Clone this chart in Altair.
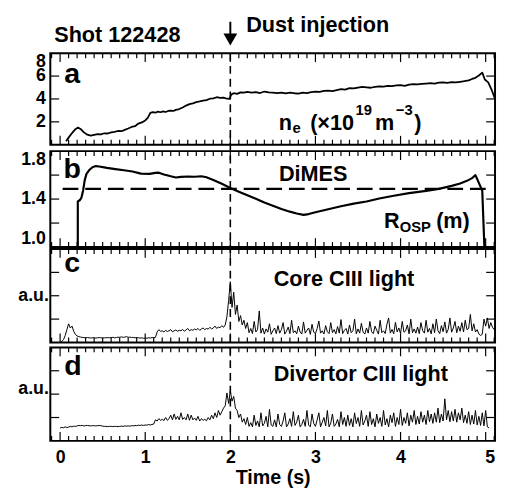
import altair as alt
import pandas as pd

FONT = "Liberation Sans"
W, H_TOTAL = 452, 394
X_DOMAIN = [-0.115, 5.11]
DUST_T = 2.0

X_MAJOR = [0, 1, 2, 3, 4, 5]
X_MINOR = [round(i / 10, 1) for i in range(-1, 52) if i % 10 != 0]
TICK_MAJOR_LEN, TICK_MINOR_LEN = 9, 5

# ---------------- panel a : line-averaged density ----------------
ne_t = [0.07, 0.10, 0.14, 0.18, 0.21, 0.24, 0.28, 0.32, 0.36, 0.40, 0.44, 0.48, 0.52, 0.56,
        0.60, 0.64, 0.68, 0.72, 0.76, 0.80, 0.84, 0.88, 0.92, 0.96, 1.00, 1.03, 1.06, 1.09,
        1.12, 1.15, 1.18, 1.21, 1.24, 1.27, 1.30, 1.33, 1.36, 1.40, 1.44, 1.48, 1.52, 1.56,
        1.60, 1.64, 1.68, 1.72, 1.76, 1.80, 1.84, 1.88, 1.92, 1.96, 1.99, 2.01, 2.04, 2.08,
        2.12, 2.16, 2.20, 2.25, 2.30, 2.35, 2.40, 2.45, 2.50, 2.55, 2.60, 2.65, 2.70, 2.75,
        2.80, 2.85, 2.90, 2.95, 3.00, 3.05, 3.10, 3.15, 3.20, 3.25, 3.30, 3.35, 3.40, 3.45,
        3.50, 3.55, 3.60, 3.65, 3.70, 3.75, 3.80, 3.85, 3.90, 3.95, 4.00, 4.05, 4.10, 4.15,
        4.20, 4.25, 4.30, 4.35, 4.40, 4.45, 4.50, 4.55, 4.60, 4.65, 4.70, 4.75, 4.80, 4.84,
        4.88, 4.92, 4.96, 4.99, 5.03, 5.07, 5.11]
ne_v = [0.30, 0.62, 1.02, 1.36, 1.50, 1.38, 1.08, 0.88, 0.80, 0.86, 0.92, 0.90, 1.00, 0.98,
        1.08, 1.12, 1.20, 1.18, 1.30, 1.42, 1.55, 1.62, 1.85, 1.95, 2.12, 2.35, 2.78, 2.85,
        2.80, 2.90, 2.84, 2.92, 2.86, 2.95, 2.98, 2.95, 3.05, 3.12, 3.25, 3.42, 3.55, 3.62,
        3.72, 3.78, 3.85, 3.90, 4.02, 4.05, 4.15, 4.10, 4.12, 4.02, 4.00, 4.38, 4.50, 4.45,
        4.58, 4.55, 4.62, 4.55, 4.60, 4.52, 4.65, 4.58, 4.55, 4.50, 4.56, 4.48, 4.55, 4.50,
        4.47, 4.55, 4.52, 4.60, 4.65, 4.62, 4.70, 4.72, 4.68, 4.78, 4.85, 4.82, 4.95, 4.92,
        5.00, 5.05, 5.02, 4.98, 5.05, 5.10, 5.08, 5.15, 5.12, 5.18, 5.20, 5.15, 5.25, 5.30,
        5.28, 5.32, 5.35, 5.38, 5.35, 5.42, 5.45, 5.40, 5.48, 5.45, 5.50, 5.55, 5.62, 5.75,
        5.85, 6.05, 6.30, 5.70, 5.45, 4.80, 4.00]

# ---------------- panel b : outer strike point radius ----------------
r_t = [0.208, 0.208, 0.23, 0.25, 0.27, 0.29, 0.31, 0.34, 0.38, 0.42, 0.46, 0.55, 0.65, 0.75,
       0.85, 0.95, 1.05, 1.12, 1.16, 1.22, 1.30, 1.36, 1.42, 1.50, 1.58, 1.66, 1.72, 1.80,
       1.90, 2.00, 2.10, 2.20, 2.30, 2.40, 2.50, 2.60, 2.70, 2.78, 2.86, 2.92, 3.00, 3.15,
       3.30, 3.45, 3.60, 3.75, 3.92, 4.10, 4.30, 4.45, 4.60, 4.70, 4.78, 4.84, 4.88, 4.96,
       4.985]
r_v = [1.00, 1.38, 1.39, 1.41, 1.47, 1.56, 1.61, 1.64, 1.665, 1.675, 1.672, 1.66, 1.65, 1.64,
       1.63, 1.612, 1.61, 1.618, 1.62, 1.605, 1.59, 1.58, 1.585, 1.588, 1.586, 1.59, 1.582,
       1.56, 1.528, 1.492, 1.462, 1.432, 1.402, 1.372, 1.345, 1.318, 1.295, 1.28, 1.268,
       1.275, 1.29, 1.315, 1.34, 1.362, 1.38, 1.405, 1.428, 1.45, 1.468, 1.485, 1.51, 1.53,
       1.552, 1.575, 1.60, 1.47, 1.00]
DIMES_R = 1.485
DIMES_T = [0.03, 5.07]

# ---------------- panels c, d : CIII light (sampled every 0.02 s from t = 0) ----------------
LIGHT_T0, LIGHT_DT = 0.0, 0.02
core_c3 = [
    0.0, 0.05, 0.12, 0.3, 0.55, 0.8, 0.62, 0.7, 0.48, 0.34,
    0.28, 0.25, 0.23, 0.22, 0.21, 0.2, 0.21, 0.2, 0.19, 0.2,
    0.2, 0.19, 0.2, 0.21, 0.2, 0.19, 0.2, 0.2, 0.21, 0.2,
    0.21, 0.22, 0.2, 0.21, 0.23, 0.22, 0.24, 0.22, 0.23, 0.25,
    0.22, 0.23, 0.21, 0.22, 0.2, 0.21, 0.2, 0.19, 0.2, 0.18,
    0.19, 0.18, 0.2, 0.19, 0.21, 0.2, 0.22, 0.45, 0.55, 0.48,
    0.5, 0.45, 0.52, 0.47, 0.5, 0.55, 0.46, 0.5, 0.53, 0.48,
    0.52, 0.5, 0.56, 0.48, 0.54, 0.6, 0.5, 0.55, 0.52, 0.58,
    0.54, 0.6, 0.52, 0.58, 0.62, 0.55, 0.6, 0.57, 0.65, 0.58,
    0.62, 0.7, 0.6, 0.66, 0.63, 0.72, 0.65, 0.75, 1.1, 1.8,
    2.6, 1.5, 2.15, 1.2, 1.6, 0.9, 1.15, 0.75, 0.95, 0.6,
    0.85, 0.42, 0.6, 0.38, 0.9, 0.45, 0.55, 1.35, 0.4, 0.62,
    0.36, 0.58, 0.44, 0.8, 0.35, 0.5, 0.62, 0.38, 0.72, 0.4,
    0.55, 0.85, 0.36, 0.48, 0.66, 0.38, 0.95, 0.42, 0.5, 0.37,
    0.7, 0.45, 0.36, 0.88, 0.4, 0.52, 0.62, 0.35, 0.78, 0.44,
    0.38, 0.6, 0.92, 0.4, 0.5, 0.36, 0.72, 0.46, 0.38, 0.85,
    0.42, 0.55, 0.37, 0.68, 0.4, 0.98, 0.38, 0.52, 0.6, 0.36,
    0.75, 0.42, 0.5, 1.0, 0.37, 0.58, 0.4, 0.82, 0.44, 0.36,
    0.62, 0.4, 0.9, 0.46, 0.38, 0.7, 0.52, 0.36, 0.95, 0.42,
    0.5, 0.38, 0.78, 1.05, 0.4, 0.56, 0.37, 0.86, 0.45, 0.62,
    0.38, 0.9, 0.44, 0.5, 0.75, 0.37, 1.0, 0.42, 0.58, 0.4,
    0.66, 0.38, 0.85, 0.5, 0.4, 0.95, 0.44, 0.6, 0.37, 0.8,
    0.42, 1.0, 0.5, 0.38, 0.72, 0.46, 0.88, 0.4, 0.56, 1.05,
    0.44, 0.62, 0.9, 0.42, 0.7, 0.48, 0.85, 0.45, 0.95, 0.55,
    0.6, 1.2, 0.5, 0.8, 0.45, 0.55, 0.36, 0.3, 0.35, 1.0,
    0.7, 1.05, 0.6, 0.85, 0.65, 0.55]
div_c3 = [
    0.55, 0.58, 0.56, 0.6, 0.57, 0.59, 0.62, 0.6, 0.63, 0.62,
    0.64, 0.66, 0.65, 0.66, 0.64, 0.65, 0.66, 0.65, 0.64, 0.65,
    0.65, 0.64, 0.65, 0.66, 0.65, 0.63, 0.62, 0.62, 0.61, 0.62,
    0.62, 0.61, 0.62, 0.62, 0.61, 0.62, 0.63, 0.62, 0.64, 0.63,
    0.64, 0.63, 0.65, 0.64, 0.66, 0.65, 0.67, 0.66, 0.68, 0.66,
    0.68, 0.67, 0.7, 0.68, 0.7, 0.72, 0.9, 0.85, 0.95, 0.88,
    0.92, 0.87, 1.0, 0.88, 0.95, 1.1, 0.9, 1.15, 0.92, 1.05,
    0.9, 1.2, 0.92, 1.0, 0.9, 1.15, 0.88, 1.1, 0.9, 0.98,
    0.88, 1.05, 0.85, 0.95, 0.88, 0.92, 0.86, 1.0, 0.9, 1.1,
    0.95, 1.2, 1.0, 1.3, 1.1, 1.25, 1.4, 1.5, 2.05, 1.6,
    2.15, 1.7, 1.9, 1.4, 1.3, 1.0, 1.15, 0.8, 0.95, 0.7,
    1.0, 0.62, 0.78, 0.6, 1.1, 0.66, 0.85, 0.6, 1.2, 0.64,
    0.75, 1.05, 0.6, 1.35, 0.68, 0.62, 0.9, 0.6, 1.15, 0.7,
    0.62, 0.85, 1.2, 0.6, 0.72, 0.95, 0.62, 1.25, 0.66, 0.8,
    1.1, 0.6, 0.7, 0.92, 0.62, 1.3, 0.68, 0.6, 1.15, 0.75,
    0.62, 0.9, 1.2, 0.6, 0.8, 1.0, 0.64, 1.3, 0.6, 0.76,
    1.15, 0.62, 0.72, 0.92, 0.6, 1.25, 0.7, 1.0, 0.62, 1.1,
    0.66, 0.95, 0.6, 1.2, 0.74, 1.0, 0.62, 1.3, 0.68, 0.85,
    1.1, 0.62, 1.25, 0.7, 0.95, 0.6, 1.15, 0.75, 1.0, 0.62,
    1.3, 0.68, 0.95, 0.6, 1.1, 0.78, 1.2, 0.62, 1.0, 0.7,
    1.35, 0.66, 1.0, 0.75, 1.2, 0.64, 1.1, 0.8, 1.3, 0.7,
    1.05, 0.72, 1.25, 0.8, 1.1, 0.7, 1.3, 0.82, 1.15, 0.75,
    1.2, 0.8, 1.4, 0.78, 1.15, 0.85, 1.8, 0.9, 1.3, 0.82,
    1.25, 0.85, 1.35, 0.8, 1.2, 0.9, 1.4, 0.78, 1.1, 0.75,
    1.25, 0.7, 1.1, 0.72, 1.3, 0.68, 1.05, 0.66, 1.2, 0.64,
    1.3, 0.6, 0.55]

# ---------------- annotation text ----------------
SHOT_LABEL = "Shot 122428"
DUST_LABEL = "Dust injection"
PANEL_LETTERS = ["a", "b", "c", "d"]
NE_PARTS = ["n", "e", "(×10", "19", "m", "−3", ")"]
R_PARTS = ["R", "OSP", "(m)"]
DIMES_LABEL = "DiMES"
CORE_LABEL = "Core CIII light"
DIV_LABEL = "Divertor CIII light"

TXT, SUB, LETTER, TICKLAB, TITLE = 22, 15, 29, 18, 20

# panel layout: y domain and pixel band (top, bottom) inside the 394 px tall plot area
PANEL_DOM = [[0, 8], [1.0, 1.8], [0, 4], [0, 4]]
PANEL_BAND = [[0, 93], [99.5, 197], [199, 294], [299, 394]]
PANEL_YTICKS = [[2, 4, 6], [1.2, 1.4, 1.6], [1, 2, 3], [1, 2, 3]]

XS = alt.Scale(domain=X_DOMAIN, nice=False, zero=False)
PX_PER_T = W / (X_DOMAIN[1] - X_DOMAIN[0])


def yscale(k):
    top, bot = PANEL_BAND[k]
    return alt.Scale(domain=PANEL_DOM[k], range=[bot, top], nice=False, zero=False)


def units_per_px(k):
    top, bot = PANEL_BAND[k]
    d0, d1 = PANEL_DOM[k]
    return (d1 - d0) / (bot - top)


def frame_df(t, v):
    return pd.DataFrame({"t": t, "v": v, "i": list(range(len(t)))})


def light_df(vals):
    t = [round(LIGHT_T0 + i * LIGHT_DT, 3) for i in range(len(vals))]
    return frame_df(t, vals)


def y_label_axis(vals, fmt=None, expr=None):
    kw = dict(orient="left", values=vals, ticks=False, domain=False, grid=False,
              title=None, labelFlush=True, labelPadding=5, labelOverlap=False)
    if fmt:
        kw["format"] = fmt
    if expr:
        kw["labelExpr"] = expr
        kw["labelPadding"] = 2
    return alt.Axis(**kw)


def text_layer(k, labels, ts, vs, size, align="left", baseline="alphabetic"):
    df = pd.DataFrame({"s": labels, "t": ts, "v": vs})
    return alt.Chart(df).mark_text(font=FONT, fontWeight="bold", fontSize=size, align=align,
                                   baseline=baseline, color="black").encode(
        x=alt.X("t:Q", scale=XS, axis=None),
        y=alt.Y("v:Q", scale=yscale(k), axis=None),
        text="s:N")


def frame_and_ticks(k):
    ys = yscale(k)
    d0, d1 = PANEL_DOM[k]
    u = units_per_px(k)
    out = [alt.Chart(pd.DataFrame({"x0": [X_DOMAIN[0]], "x1": [X_DOMAIN[1]],
                                   "y0": [d0], "y1": [d1]})).mark_rect(
        fillOpacity=0, stroke="black", strokeWidth=2).encode(
        x=alt.X("x0:Q", scale=XS, axis=None), x2="x1:Q",
        y=alt.Y("y0:Q", scale=ys, axis=None), y2="y1:Q")]
    for vals, ln in [(X_MAJOR, TICK_MAJOR_LEN), (X_MINOR, TICK_MINOR_LEN)]:
        for a, b in [(d0, d0 + ln * u), (d1, d1 - ln * u)]:
            df = pd.DataFrame({"t": vals, "a": a, "b": b})
            out.append(alt.Chart(df).mark_rule(color="black", strokeWidth=1.2).encode(
                x=alt.X("t:Q", scale=XS, axis=None),
                y=alt.Y("a:Q", scale=ys, axis=None), y2="b:Q"))
    lt = TICK_MAJOR_LEN / PX_PER_T
    for a, b in [(X_DOMAIN[0], X_DOMAIN[0] + lt), (X_DOMAIN[1], X_DOMAIN[1] - lt)]:
        df = pd.DataFrame({"v": PANEL_YTICKS[k], "a": a, "b": b})
        out.append(alt.Chart(df).mark_rule(color="black", strokeWidth=1.2).encode(
            y=alt.Y("v:Q", scale=ys, axis=None),
            x=alt.X("a:Q", scale=XS, axis=None), x2="b:Q"))
    return out


def main_line(k, df, lw, yaxis, xaxis=None):
    return alt.Chart(df).mark_line(color="black", strokeWidth=lw, strokeJoin="round").encode(
        x=alt.X("t:Q", scale=XS, axis=xaxis),
        y=alt.Y("v:Q", scale=yscale(k), axis=yaxis),
        order="i:Q")


time_axis = alt.Axis(orient="bottom", values=X_MAJOR, ticks=False, domain=False, grid=False,
                     title="Time (s)", labelPadding=8, titlePadding=1, format="d",
                     labelFlush=False, labelOverlap=False,
                     labelOffset={"condition": {"test": "datum.value == 5", "value": 4}, "value": 0})

layers = []
for k in range(4):
    layers += frame_and_ticks(k)

# panel a
layers.append(main_line(0, frame_df(ne_t, ne_v), 1.8, y_label_axis([2, 4, 6, 8], fmt="d")))
layers.append(alt.Chart(pd.DataFrame({"t": [DUST_T], "v": [10.75], "v2": [9.63]})).mark_rule(
    color="black", strokeWidth=2).encode(
    x=alt.X("t:Q", scale=XS, axis=None), y=alt.Y("v:Q", scale=yscale(0), axis=None), y2="v2:Q"))
layers.append(alt.Chart(pd.DataFrame({"t": [DUST_T], "v": [9.2]})).mark_point(
    shape="triangle-down", size=196, filled=True, color="black", opacity=1).encode(
    x=alt.X("t:Q", scale=XS, axis=None), y=alt.Y("v:Q", scale=yscale(0), axis=None)))
layers += [
    text_layer(0, [SHOT_LABEL], [-0.069], [10.43], TXT, baseline="top"),
    text_layer(0, [DUST_LABEL], [2.186], [11.31], TXT, baseline="top"),
    text_layer(0, [PANEL_LETTERS[0]], [0.05], [5.42], LETTER),
    text_layer(0, [NE_PARTS[0], NE_PARTS[2], NE_PARTS[4], NE_PARTS[6]],
               [2.568, 2.938, 3.70, 4.16], [1.29] * 4, TXT),
    text_layer(0, [NE_PARTS[1], NE_PARTS[3], NE_PARTS[5]],
               [2.73, 3.47, 3.945], [1.0, 2.58, 2.58], SUB),
]

# panel b
layers.append(main_line(1, frame_df(r_t, r_v), 2.2, y_label_axis([1.0, 1.4, 1.8], fmt=".1f")))
layers.append(alt.Chart(pd.DataFrame({"t": [DIMES_T[0]], "t2": [DIMES_T[1]], "v": [DIMES_R]})).mark_rule(
    color="black", strokeWidth=2.5, strokeDash=[16, 7]).encode(
    x=alt.X("t:Q", scale=XS, axis=None), x2="t2:Q",
    y=alt.Y("v:Q", scale=yscale(1), axis=None)))
layers += [
    text_layer(1, [PANEL_LETTERS[1]], [0.04], [1.574], LETTER),
    text_layer(1, [DIMES_LABEL], [2.973], [1.55], TXT, align="center"),
    text_layer(1, [R_PARTS[0], R_PARTS[2]], [3.805, 4.418], [1.156, 1.156], TXT),
    text_layer(1, [R_PARTS[1]], [3.99], [1.123], SUB),
]

# panel c
layers.append(main_line(2, light_df(core_c3), 1.0, y_label_axis([2.0], expr="'a.u.'")))
layers += [
    text_layer(2, [PANEL_LETTERS[2]], [0.05], [3.03], LETTER),
    text_layer(2, [CORE_LABEL], [2.51], [2.4], TXT),
]

# panel d
layers.append(main_line(3, light_df(div_c3), 1.0, y_label_axis([2.23], expr="'a.u.'"), time_axis))
layers += [
    text_layer(3, [PANEL_LETTERS[3]], [0.05], [2.82], LETTER),
    text_layer(3, [DIV_LABEL], [2.51], [2.57], TXT),
]

# dust injection time marker through all panels
layers.append(alt.Chart(pd.DataFrame({"t": [DUST_T]})).mark_rule(
    color="black", strokeWidth=1.6, strokeDash=[8, 5]).encode(
    x=alt.X("t:Q", scale=XS, axis=None), y=alt.value(0), y2=alt.value(390)))

chart = alt.layer(*layers).resolve_scale(y="independent").resolve_axis(
    x="independent", y="independent"
).properties(
    width=W, height=H_TOTAL,
    autosize=alt.AutoSizeParams(type="none"),
    padding={"left": 43, "top": 42, "right": 2, "bottom": 47},
    background="white",
).configure_view(
    stroke="transparent"
).configure_axis(
    labelFont=FONT, labelFontSize=TICKLAB, labelFontWeight="bold", labelColor="black",
    titleFont=FONT, titleFontSize=TITLE, titleFontWeight="bold", titleColor="black"
)

chart.save("out.html", embed_options={"renderer": "svg", "actions": False})
